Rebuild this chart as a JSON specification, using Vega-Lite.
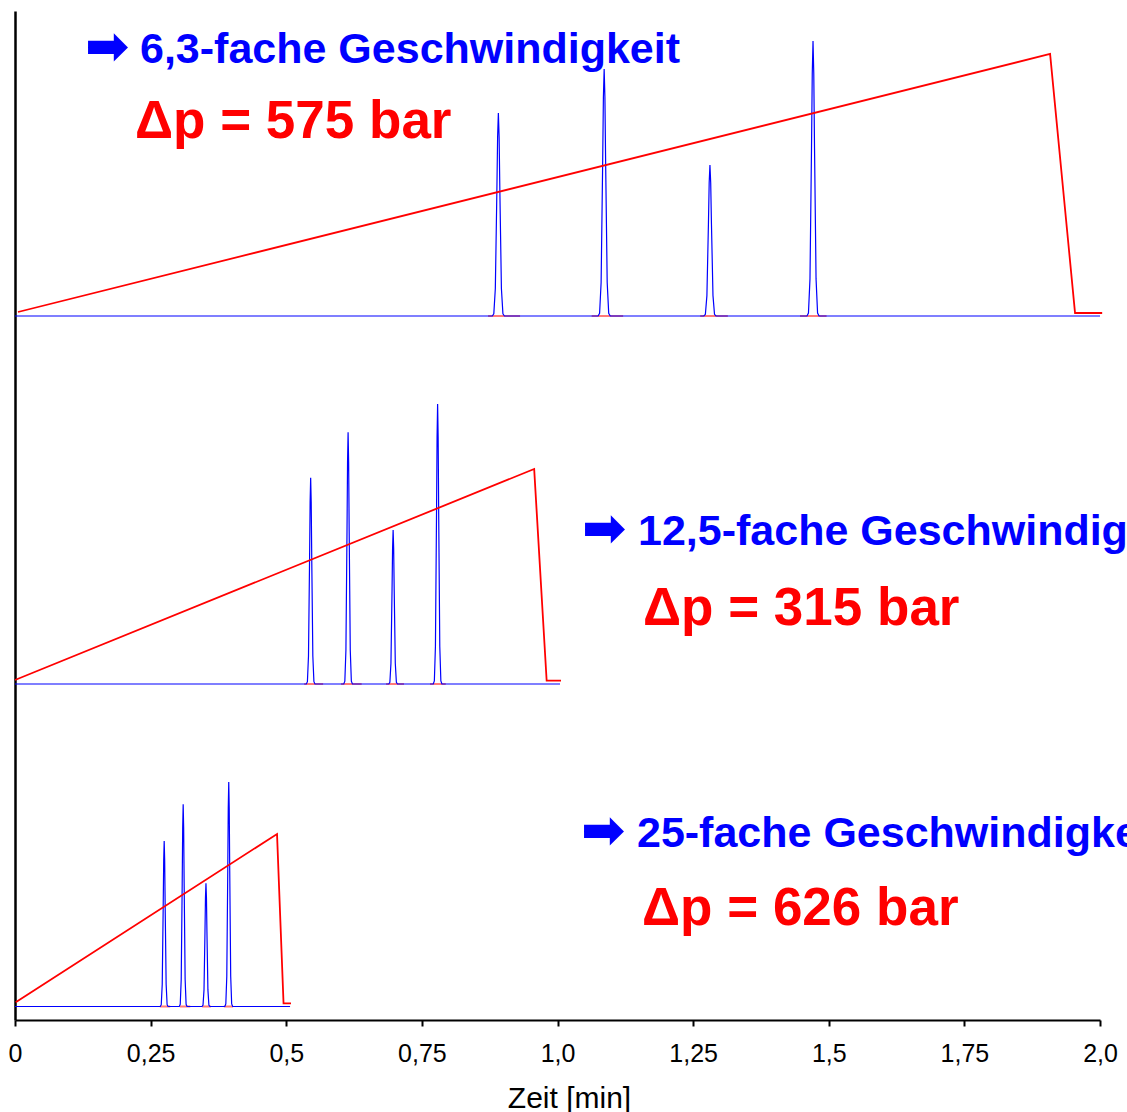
{
  "$schema": "https://vega.github.io/schema/vega-lite/v6.json",
  "width": 1085,
  "height": 1009,
  "autosize": {"type": "none"},
  "padding": {"left": 15, "top": 11, "right": 27, "bottom": 92},
  "background": "white",
  "config": {
    "view": {"stroke": null},
    "axis": {"grid": false, "domainColor": "black", "domainWidth": 2, "tickColor": "black", "tickWidth": 2, "labelColor": "black", "titleColor": "black", "labelFont": "Liberation Sans", "titleFont": "Liberation Sans"}
  },
  "datasets": {
    "trace": [
      {"run": 1, "t": 0, "s": 704},
      {"run": 1, "t": 0.8798, "s": 704}, {"run": 1, "t": 0.8826, "s": 706.2}, {"run": 1, "t": 0.8854, "s": 731.4}, {"run": 1, "t": 0.8882, "s": 827.2}, {"run": 1, "t": 0.8896, "s": 883.0}, {"run": 1, "t": 0.891, "s": 907}, {"run": 1, "t": 0.8924, "s": 883.0}, {"run": 1, "t": 0.8938, "s": 827.2}, {"run": 1, "t": 0.8966, "s": 731.4}, {"run": 1, "t": 0.8994, "s": 706.2}, {"run": 1, "t": 0.9022, "s": 704},
      {"run": 1, "t": 1.0748, "s": 704}, {"run": 1, "t": 1.0776, "s": 706.7}, {"run": 1, "t": 1.0804, "s": 737.5}, {"run": 1, "t": 1.0832, "s": 854.5}, {"run": 1, "t": 1.0846, "s": 922.7}, {"run": 1, "t": 1.086, "s": 951}, {"run": 1, "t": 1.0874, "s": 922.7}, {"run": 1, "t": 1.0888, "s": 854.5}, {"run": 1, "t": 1.0916, "s": 737.5}, {"run": 1, "t": 1.0944, "s": 706.7}, {"run": 1, "t": 1.0972, "s": 704},
      {"run": 1, "t": 1.2698, "s": 704}, {"run": 1, "t": 1.2726, "s": 705.7}, {"run": 1, "t": 1.2754, "s": 724.4}, {"run": 1, "t": 1.2782, "s": 795.7}, {"run": 1, "t": 1.2796, "s": 837.2}, {"run": 1, "t": 1.281, "s": 855}, {"run": 1, "t": 1.2824, "s": 837.2}, {"run": 1, "t": 1.2838, "s": 795.7}, {"run": 1, "t": 1.2866, "s": 724.4}, {"run": 1, "t": 1.2894, "s": 705.7}, {"run": 1, "t": 1.2922, "s": 704},
      {"run": 1, "t": 1.4598, "s": 704}, {"run": 1, "t": 1.4626, "s": 707.0}, {"run": 1, "t": 1.4654, "s": 741.1}, {"run": 1, "t": 1.4682, "s": 870.9}, {"run": 1, "t": 1.4696, "s": 946.6}, {"run": 1, "t": 1.471, "s": 979}, {"run": 1, "t": 1.4724, "s": 946.6}, {"run": 1, "t": 1.4738, "s": 870.9}, {"run": 1, "t": 1.4766, "s": 741.1}, {"run": 1, "t": 1.4794, "s": 707.0}, {"run": 1, "t": 1.4822, "s": 704},
      {"run": 1, "t": 2.0, "s": 704},
      {"run": 2, "t": 0, "s": 336},
      {"run": 2, "t": 0.537, "s": 336}, {"run": 2, "t": 0.539, "s": 338.3}, {"run": 2, "t": 0.541, "s": 363.9}, {"run": 2, "t": 0.543, "s": 461.2}, {"run": 2, "t": 0.544, "s": 518.0}, {"run": 2, "t": 0.545, "s": 542.3}, {"run": 2, "t": 0.546, "s": 518.0}, {"run": 2, "t": 0.547, "s": 461.2}, {"run": 2, "t": 0.549, "s": 363.9}, {"run": 2, "t": 0.551, "s": 338.3}, {"run": 2, "t": 0.553, "s": 336},
      {"run": 2, "t": 0.606, "s": 336}, {"run": 2, "t": 0.608, "s": 338.8}, {"run": 2, "t": 0.610, "s": 370.0}, {"run": 2, "t": 0.612, "s": 488.8}, {"run": 2, "t": 0.613, "s": 558.0}, {"run": 2, "t": 0.614, "s": 587.7}, {"run": 2, "t": 0.615, "s": 558.0}, {"run": 2, "t": 0.616, "s": 488.8}, {"run": 2, "t": 0.618, "s": 370.0}, {"run": 2, "t": 0.620, "s": 338.8}, {"run": 2, "t": 0.622, "s": 336},
      {"run": 2, "t": 0.689, "s": 336}, {"run": 2, "t": 0.691, "s": 337.7}, {"run": 2, "t": 0.693, "s": 356.8}, {"run": 2, "t": 0.695, "s": 429.5}, {"run": 2, "t": 0.696, "s": 471.8}, {"run": 2, "t": 0.697, "s": 490}, {"run": 2, "t": 0.698, "s": 471.8}, {"run": 2, "t": 0.699, "s": 429.5}, {"run": 2, "t": 0.701, "s": 356.8}, {"run": 2, "t": 0.703, "s": 337.7}, {"run": 2, "t": 0.705, "s": 336},
      {"run": 2, "t": 0.771, "s": 336}, {"run": 2, "t": 0.773, "s": 339.1}, {"run": 2, "t": 0.775, "s": 373.8}, {"run": 2, "t": 0.777, "s": 506.0}, {"run": 2, "t": 0.778, "s": 583.0}, {"run": 2, "t": 0.779, "s": 616}, {"run": 2, "t": 0.780, "s": 583.0}, {"run": 2, "t": 0.781, "s": 506.0}, {"run": 2, "t": 0.783, "s": 373.8}, {"run": 2, "t": 0.785, "s": 339.1}, {"run": 2, "t": 0.787, "s": 336},
      {"run": 2, "t": 1.0046, "s": 336},
      {"run": 3, "t": 0, "s": 13.5},
      {"run": 3, "t": 0.2678, "s": 13.5}, {"run": 3, "t": 0.2696, "s": 15.3}, {"run": 3, "t": 0.2714, "s": 35.8}, {"run": 3, "t": 0.2732, "s": 114.0}, {"run": 3, "t": 0.2741, "s": 159.5}, {"run": 3, "t": 0.275, "s": 179}, {"run": 3, "t": 0.2759, "s": 159.5}, {"run": 3, "t": 0.2768, "s": 114.0}, {"run": 3, "t": 0.2786, "s": 35.8}, {"run": 3, "t": 0.2804, "s": 15.3}, {"run": 3, "t": 0.2822, "s": 13.5},
      {"run": 3, "t": 0.3028, "s": 13.5}, {"run": 3, "t": 0.3046, "s": 15.7}, {"run": 3, "t": 0.3064, "s": 40.8}, {"run": 3, "t": 0.3082, "s": 136.2}, {"run": 3, "t": 0.3091, "s": 191.8}, {"run": 3, "t": 0.310, "s": 215.7}, {"run": 3, "t": 0.3109, "s": 191.8}, {"run": 3, "t": 0.3118, "s": 136.2}, {"run": 3, "t": 0.3136, "s": 40.8}, {"run": 3, "t": 0.3154, "s": 15.7}, {"run": 3, "t": 0.3172, "s": 13.5},
      {"run": 3, "t": 0.3448, "s": 13.5}, {"run": 3, "t": 0.3466, "s": 14.9}, {"run": 3, "t": 0.3484, "s": 30.1}, {"run": 3, "t": 0.3502, "s": 88.3}, {"run": 3, "t": 0.3511, "s": 122.2}, {"run": 3, "t": 0.352, "s": 136.7}, {"run": 3, "t": 0.3529, "s": 122.2}, {"run": 3, "t": 0.3538, "s": 88.3}, {"run": 3, "t": 0.3556, "s": 30.1}, {"run": 3, "t": 0.3574, "s": 14.9}, {"run": 3, "t": 0.3592, "s": 13.5},
      {"run": 3, "t": 0.3868, "s": 13.5}, {"run": 3, "t": 0.3886, "s": 16.0}, {"run": 3, "t": 0.3904, "s": 43.8}, {"run": 3, "t": 0.3922, "s": 149.8}, {"run": 3, "t": 0.3931, "s": 211.5}, {"run": 3, "t": 0.394, "s": 238}, {"run": 3, "t": 0.3949, "s": 211.5}, {"run": 3, "t": 0.3958, "s": 149.8}, {"run": 3, "t": 0.3976, "s": 43.8}, {"run": 3, "t": 0.3994, "s": 16.0}, {"run": 3, "t": 0.4012, "s": 13.5},
      {"run": 3, "t": 0.507, "s": 13.5}
    ],
    "gradient": [
      {"run": 1, "t": 0.0055, "p": 708}, {"run": 1, "t": 1.908, "p": 966}, {"run": 1, "t": 1.954, "p": 707}, {"run": 1, "t": 2.004, "p": 707},
      {"run": 2, "t": 0, "p": 340}, {"run": 2, "t": 0.957, "p": 551}, {"run": 2, "t": 0.980, "p": 339.3}, {"run": 2, "t": 1.0065, "p": 339.3},
      {"run": 3, "t": 0.0013, "p": 17.7}, {"run": 3, "t": 0.483, "p": 186}, {"run": 3, "t": 0.495, "p": 16.7}, {"run": 3, "t": 0.5088, "p": 16.7}
    ],
    "integ": [
      {"run": 1, "t0": 0.872, "t1": 0.931, "y": 704}, {"run": 1, "t0": 1.063, "t1": 1.121, "y": 704}, {"run": 1, "t0": 1.263, "t1": 1.314, "y": 704}, {"run": 1, "t0": 1.447, "t1": 1.496, "y": 704},
      {"run": 2, "t0": 0.533, "t1": 0.568, "y": 336}, {"run": 2, "t0": 0.601, "t1": 0.639, "y": 336}, {"run": 2, "t0": 0.684, "t1": 0.717, "y": 336}, {"run": 2, "t0": 0.765, "t1": 0.794, "y": 336},
      {"run": 3, "t0": 0.267, "t1": 0.286, "y": 13.5}, {"run": 3, "t0": 0.304, "t1": 0.323, "y": 13.5}, {"run": 3, "t0": 0.345, "t1": 0.361, "y": 13.5}, {"run": 3, "t0": 0.385, "t1": 0.402, "y": 13.5}
    ],
    "labels": [
      {"kind": "arrow", "t": 0.1290, "y": 956, "text": "➡"},
      {"kind": "speed", "t": 0.2304, "y": 957, "text": "6,3-fache Geschwindigkeit"},
      {"kind": "dp", "t": 0.2212, "y": 882, "text": "Δp = 575 bar"},
      {"kind": "arrow", "t": 1.045, "y": 474, "text": "➡"},
      {"kind": "speed", "t": 1.1484, "y": 475, "text": "12,5-fache Geschwindigkeit"},
      {"kind": "dp", "t": 1.1576, "y": 395, "text": "Δp = 315 bar"},
      {"kind": "arrow", "t": 1.0432, "y": 172, "text": "➡"},
      {"kind": "speed", "t": 1.1465, "y": 173, "text": "25-fache Geschwindigkeit"},
      {"kind": "dp", "t": 1.1558, "y": 95, "text": "Δp = 626 bar"}
    ]
  },
  "layer": [
    {
      "data": {"name": "integ"},
      "mark": {"type": "rule", "color": "#ff4040", "opacity": 0.7, "strokeWidth": 2},
      "encoding": {
        "x": {"field": "t0", "type": "quantitative", "scale": {"domain": [0, 2], "nice": false, "zero": false}, "title": "Zeit  [min]",
              "axis": {"values": [0, 0.25, 0.5, 0.75, 1, 1.25, 1.5, 1.75, 2], "labelExpr": "datum.value === 1 ? '1,0' : datum.value === 2 ? '2,0' : replace(toString(datum.value), '.', ',')", "labelFontSize": 25, "labelPadding": 15, "tickSize": 6, "titleFontSize": 30, "titleFontWeight": "normal", "titleX": 554, "titleY": 87, "titleBaseline": "alphabetic", "labelFlush": false,
                       "encode": {"ticks": {"update": {"y2": {"signal": "datum.value === 0 || datum.value === 2 ? 13 : 6"}}}}}},
        "x2": {"field": "t1"},
        "y": {"field": "y", "type": "quantitative", "scale": {"domain": [0, 1009], "nice": false, "zero": false}, "title": null,
              "axis": {"ticks": false, "labels": false, "domainWidth": 2.5}}
      }
    },
    {
      "data": {"name": "trace"},
      "mark": {"type": "line", "color": "#0000ff", "strokeWidth": 1.2},
      "encoding": {
        "x": {"field": "t", "type": "quantitative", "title": "Zeit  [min]"},
        "y": {"field": "s", "type": "quantitative", "title": null},
        "detail": {"field": "run"}
      }
    },
    {
      "data": {"name": "gradient"},
      "mark": {"type": "line", "color": "#ff0000", "strokeWidth": 1.8},
      "encoding": {
        "x": {"field": "t", "type": "quantitative", "title": "Zeit  [min]"},
        "y": {"field": "p", "type": "quantitative", "title": null},
        "detail": {"field": "run"}
      }
    },
    {
      "data": {"name": "labels"},
      "transform": [{"filter": "datum.kind === 'arrow'"}],
      "mark": {"type": "text", "align": "left", "baseline": "alphabetic", "font": "DejaVu Sans", "fontWeight": "bold", "fontSize": 53, "color": "#0000ff"},
      "encoding": {
        "x": {"field": "t", "type": "quantitative", "title": "Zeit  [min]"},
        "y": {"field": "y", "type": "quantitative", "title": null},
        "text": {"field": "text"}
      }
    },
    {
      "data": {"name": "labels"},
      "transform": [{"filter": "datum.kind === 'speed'"}],
      "mark": {"type": "text", "align": "left", "baseline": "alphabetic", "font": "Liberation Sans", "fontWeight": "bold", "fontSize": 43, "color": "#0000ff"},
      "encoding": {
        "x": {"field": "t", "type": "quantitative", "title": "Zeit  [min]"},
        "y": {"field": "y", "type": "quantitative", "title": null},
        "text": {"field": "text"}
      }
    },
    {
      "data": {"name": "labels"},
      "transform": [{"filter": "datum.kind === 'dp'"}],
      "mark": {"type": "text", "align": "left", "baseline": "alphabetic", "font": "Liberation Sans", "fontWeight": "bold", "fontSize": 53, "color": "#ff0000"},
      "encoding": {
        "x": {"field": "t", "type": "quantitative", "title": "Zeit  [min]"},
        "y": {"field": "y", "type": "quantitative", "title": null},
        "text": {"field": "text"}
      }
    }
  ]
}
